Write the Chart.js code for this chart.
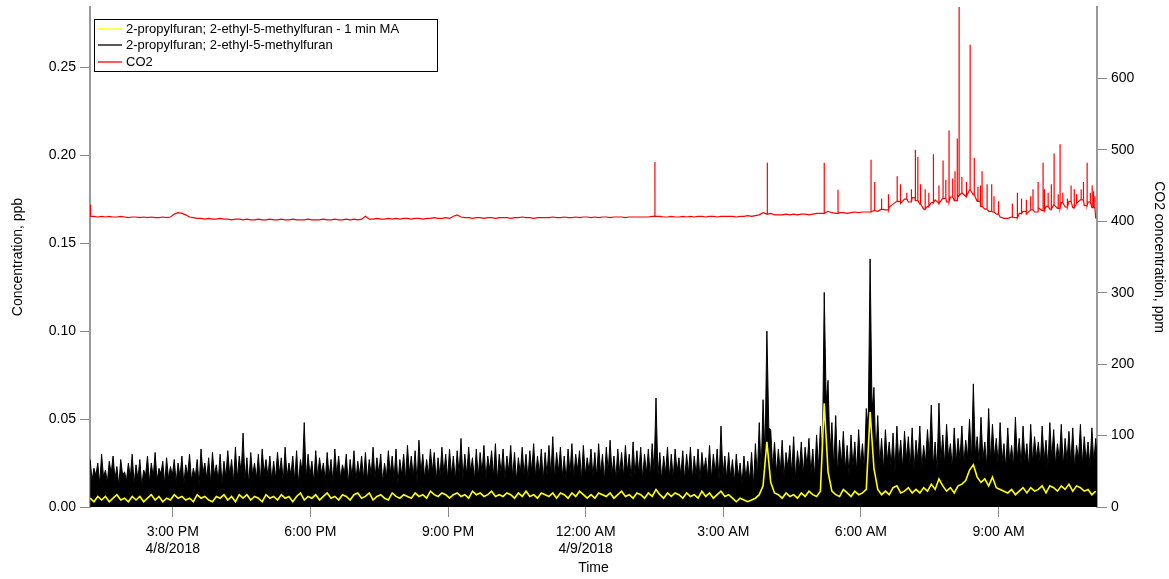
<!DOCTYPE html>
<html>
<head>
<meta charset="utf-8">
<script src="https://cdn.jsdelivr.net/npm/chart.js@4.4.1/dist/chart.umd.min.js"></script>
<style>
  html, body { margin: 0; padding: 0; background: #fff; }
  canvas { display: block; }
</style>
</head>
<body>
<canvas id="c" width="1169" height="579"></canvas>
<script>
// Time base: hours since midnight 4/8/2018, one value every 5 minutes from 13:12.
const startHour = 13.2;
const stepHours = 5 / 60;

// 2-propylfuran; 2-ethyl-5-methylfuran, highest value in each 5-minute bin (ppb)
const furanPeak = [
  .027,.022,.025,.030,.021,.026,.029,.023,.027,.020,.025,.030,
  .024,.027,.021,.029,.025,.031,.022,.026,.028,.023,.027,.025,
  .029,.024,.030,.022,.027,.033,.025,.028,.031,.024,.030,.026,
  .032,.027,.034,.029,.042,.028,.031,.025,.030,.033,.027,.029,
  .026,.031,.028,.034,.025,.029,.032,.027,.048,.030,.026,.032,
  .028,.025,.031,.027,.033,.029,.024,.030,.027,.032,.026,.029,
  .031,.027,.034,.028,.030,.025,.032,.029,.033,.027,.030,.035,
  .029,.032,.038,.030,.027,.033,.031,.028,.034,.030,.033,.029,
  .032,.039,.030,.034,.028,.033,.031,.035,.029,.032,.036,.030,
  .033,.029,.035,.031,.028,.034,.030,.032,.036,.029,.033,.031,
  .035,.040,.031,.034,.029,.033,.036,.030,.032,.035,.028,.033,
  .031,.036,.030,.034,.038,.029,.033,.031,.035,.030,.037,.032,
  .034,.030,.033,.036,.062,.031,.029,.034,.030,.033,.028,.032,
  .030,.034,.029,.033,.031,.028,.035,.030,.033,.046,.029,.031,
  .027,.030,.025,.029,.026,.031,.036,.048,.061,.100,.044,.037,
  .033,.038,.031,.035,.040,.032,.037,.034,.039,.033,.041,.046,
  .122,.072,.048,.052,.038,.043,.035,.041,.037,.044,.036,.056,
  .141,.068,.052,.039,.044,.037,.042,.046,.038,.043,.040,.045,
  .038,.046,.035,.044,.058,.037,.059,.041,.047,.036,.045,.039,
  .046,.038,.050,.070,.040,.051,.037,.056,.047,.039,.048,.036,
  .045,.035,.051,.039,.046,.036,.047,.040,.037,.046,.038,.048,
  .044,.036,.047,.039,.043,.045,.035,.047,.040,.037,.045,.039
];

// lowest level reached after each bin's peak, before the next one (ppb)
const furanLow = [
  .015,.018,.013,.017,.014,.019,.016,.012,.018,.015,.017,.013,
  .016,.012,.018,.014,.017,.015,.019,.013,.016,.018,.014,.017,
  .013,.018,.015,.017,.012,.019,.016,.014,.018,.015,.013,.017,
  .018,.014,.016,.019,.015,.013,.018,.016,.014,.019,.017,.015,
  .016,.019,.014,.017,.018,.015,.013,.019,.016,.018,.014,.017,
  .019,.015,.017,.014,.018,.016,.019,.013,.017,.015,.018,.016,
  .015,.018,.016,.019,.014,.017,.019,.016,.013,.018,.016,.019,
  .017,.014,.019,.016,.018,.020,.015,.017,.019,.016,.018,.015,
  .019,.016,.018,.020,.015,.017,.019,.016,.021,.017,.015,.019,
  .016,.020,.017,.015,.019,.018,.016,.020,.017,.019,.015,.018,
  .018,.016,.020,.017,.015,.019,.017,.021,.016,.018,.020,.017,
  .017,.019,.015,.020,.018,.016,.019,.017,.020,.016,.018,.019,
  .016,.019,.017,.020,.018,.015,.019,.017,.016,.020,.018,.015,
  .019,.016,.018,.015,.020,.017,.016,.019,.015,.018,.016,.017,
  .014,.017,.013,.016,.015,.012,.017,.019,.030,.045,.022,.019,
  .020,.017,.022,.019,.016,.021,.018,.023,.019,.017,.022,.025,
  .060,.030,.022,.019,.024,.021,.018,.023,.020,.024,.021,.045,
  .055,.028,.024,.021,.026,.023,.020,.025,.022,.027,.023,.021,
  .026,.022,.025,.028,.023,.021,.026,.024,.028,.022,.025,.027,
  .024,.028,.026,.030,.025,.027,.023,.026,.028,.024,.026,.022,
  .025,.023,.027,.024,.026,.022,.025,.028,.024,.026,.023,.027,
  .024,.027,.023,.026,.025,.022,.027,.024,.026,.023,.025,.024
];

// 1-minute moving average of the same ion (ppb)
const furanMA = [
  .005,.003,.006,.004,.006,.003,.005,.007,.004,.005,.003,.006,
  .004,.006,.003,.005,.007,.004,.006,.003,.005,.004,.007,.005,
  .006,.004,.005,.003,.007,.005,.006,.004,.003,.006,.005,.007,
  .004,.006,.003,.007,.005,.007,.004,.006,.005,.003,.007,.005,
  .006,.004,.007,.005,.006,.003,.006,.008,.004,.006,.005,.007,
  .004,.006,.008,.005,.006,.004,.007,.006,.004,.007,.008,.005,
  .006,.008,.004,.006,.007,.005,.004,.008,.006,.005,.007,.006,
  .005,.008,.006,.007,.005,.009,.007,.006,.008,.007,.005,.007,
  .008,.006,.007,.005,.009,.007,.008,.006,.007,.009,.006,.007,
  .006,.008,.007,.005,.008,.006,.009,.006,.007,.005,.008,.007,
  .006,.008,.005,.008,.007,.005,.008,.006,.009,.007,.005,.007,
  .005,.008,.007,.006,.008,.005,.007,.009,.006,.007,.005,.008,
  .007,.005,.008,.006,.010,.007,.005,.008,.006,.008,.007,.005,
  .008,.006,.007,.005,.009,.006,.008,.005,.007,.009,.006,.007,
  .005,.003,.005,.004,.003,.004,.005,.007,.012,.037,.014,.008,
  .007,.005,.008,.006,.007,.005,.008,.006,.009,.007,.006,.009,
  .059,.020,.009,.007,.006,.010,.008,.006,.009,.007,.008,.010,
  .054,.022,.010,.007,.009,.007,.011,.012,.008,.009,.011,.008,
  .010,.008,.011,.009,.013,.010,.016,.012,.009,.011,.008,.012,
  .013,.015,.021,.024,.017,.014,.016,.012,.017,.011,.010,.009,
  .008,.010,.007,.009,.011,.008,.011,.009,.010,.012,.008,.012,
  .011,.009,.012,.010,.013,.009,.012,.011,.009,.010,.007,.009
];

// CO2 background level, 5-minute values (ppm)
const co2 = [
  407,407,406,407,406,407,406,406,407,406,405,406,
  406,405,406,405,406,405,405,406,405,406,410,412,
  411,409,406,405,404,404,403,404,403,403,404,403,
  403,402,403,403,402,403,402,402,403,402,402,403,
  402,402,403,402,402,403,402,402,402,403,402,402,
  402,403,402,402,403,402,402,403,402,403,402,403,
  407,403,403,404,403,403,404,403,404,403,404,404,
  403,404,404,403,404,404,405,404,404,405,404,407,
  409,406,405,405,404,405,405,404,405,405,404,405,
  405,405,404,405,405,406,405,405,404,405,405,405,
  405,406,405,405,406,405,405,406,405,406,406,405,
  406,405,406,406,405,406,406,406,405,406,406,406,
  406,406,406,407,407,407,406,406,407,406,406,407,
  406,407,406,407,407,406,407,407,406,407,407,407,
  407,406,407,407,408,407,408,409,412,410,411,409,
  409,409,410,409,410,409,410,410,409,410,411,411,
  411,414,412,411,412,412,411,412,413,412,413,413,
  413,415,414,417,416,420,424,428,425,431,427,433,
  429,424,417,421,426,430,425,432,427,434,429,436,
  440,435,444,437,428,421,417,414,413,410,406,404,
  404,406,405,411,414,410,416,413,419,415,421,417,
  423,418,426,420,428,419,425,430,422,427,419,404
];

// short CO2 excursions: time (hours since midnight 4/8) and peak (ppm)
const co2SpikeHours = [
  13.21, 25.51, 27.96, 29.20, 29.50, 30.22, 30.30, 30.45, 30.60, 30.79,
  30.86, 31.00, 31.10, 31.18, 31.24, 31.30, 31.40, 31.48, 31.58, 31.70,
  31.79, 31.85, 31.92, 32.00, 32.05, 32.10, 32.14, 32.20, 32.30, 32.38,
  32.47, 32.55, 32.60, 32.64, 32.75, 32.85, 32.90, 33.00, 33.30, 33.41,
  33.50, 33.60, 33.70, 33.75, 33.86, 33.97, 34.00, 34.08, 34.15, 34.21,
  34.30, 34.34, 34.40, 34.50, 34.58, 34.65, 34.70, 34.80, 34.85, 34.93,
  35.00, 35.04, 35.07, 35.10
];
const co2SpikePeaks = [
  423, 483, 482, 482, 444, 486, 455, 432, 438, 463,
  452, 440, 445, 500, 490, 452, 445, 440, 494, 450,
  485, 458, 527, 460, 470, 516, 700, 462, 455, 647,
  489, 448, 450, 470, 452, 452, 435, 428, 425, 440,
  432, 430, 435, 445, 455, 482, 445, 440, 452, 495,
  438, 508, 440, 432, 450, 445, 438, 445, 455, 482,
  440, 450, 442, 435
];

const leftTicks = [0, 0.05, 0.10, 0.15, 0.20, 0.25];
const rightTicks = [0, 100, 200, 300, 400, 500, 600];
const timeTicks = [15, 18, 21, 24, 27, 30, 33];
const timeTickLabels = [
  ['3:00 PM', '4/8/2018'], ['6:00 PM'], ['9:00 PM'],
  ['12:00 AM', '4/9/2018'], ['3:00 AM'], ['6:00 AM'], ['9:00 AM']
];
const seriesLabels = [
  '2-propylfuran; 2-ethyl-5-methylfuran - 1 min MA',
  '2-propylfuran; 2-ethyl-5-methylfuran',
  'CO2'
];
const seriesColors = ['#ffff00', '#000000', '#ff0000'];

const tAt = i => startHour + i * stepHours;
const maPoints = furanMA.map((v, i) => ({ x: tAt(i), y: v }));

// raw ion trace: each bin's peak, then the low level halfway to the next bin
const rawPoints = [];
furanPeak.forEach((v, i) => {
  rawPoints.push({ x: tAt(i), y: v });
  rawPoints.push({ x: tAt(i) + stepHours / 2, y: furanLow[i] });
});

// CO2 trace: background values with each excursion drawn as a needle at its own time
const co2Points = [];
co2.forEach((v, i) => {
  co2Points.push({ x: tAt(i), y: v });
  co2SpikeHours.forEach((t, k) => {
    if (t >= tAt(i) && t < tAt(i + 1)) {
      co2Points.push({ x: t, y: v }, { x: t, y: co2SpikePeaks[k] }, { x: t, y: v });
    }
  });
});

const FONT = '"Liberation Sans", Arial, sans-serif';
Chart.defaults.font.family = FONT;
Chart.defaults.font.size = 14;
Chart.defaults.color = '#000';

// boxed legend in the upper-left corner of the plot
const boxedLegend = {
  id: 'boxedLegend',
  afterDraw(chart) {
    const ctx = chart.ctx;
    const a = chart.chartArea;
    const x = a.left + 4, y = a.top + 12, w = 343, h = 52;
    ctx.save();
    ctx.fillStyle = '#fff';
    ctx.fillRect(x, y, w, h);
    ctx.strokeStyle = '#000';
    ctx.lineWidth = 1;
    ctx.strokeRect(x + 0.5, y + 0.5, w, h);
    ctx.font = '13px ' + FONT;
    ctx.textBaseline = 'middle';
    seriesLabels.forEach((label, k) => {
      const ly = Math.round(y + 10 + k * 16.4);
      ctx.strokeStyle = seriesColors[k];
      ctx.lineWidth = 1.3;
      ctx.beginPath();
      ctx.moveTo(x + 4, ly);
      ctx.lineTo(x + 28, ly);
      ctx.stroke();
      ctx.fillStyle = '#000';
      ctx.fillText(label, x + 32, ly);
    });
    ctx.restore();
  }
};

const noEdgePadding = s => { s.paddingTop = 0; s.paddingBottom = 0; };

new Chart(document.getElementById('c'), {
  type: 'line',
  data: {
    datasets: [
      { label: seriesLabels[0], data: maPoints, yAxisID: 'y',
        borderColor: seriesColors[0], borderWidth: 1.6, pointRadius: 0, fill: false },
      { label: seriesLabels[1], data: rawPoints, yAxisID: 'y',
        borderColor: seriesColors[1], backgroundColor: seriesColors[1], borderWidth: 1, pointRadius: 0, fill: 'origin' },
      { label: seriesLabels[2], data: co2Points, yAxisID: 'y2',
        borderColor: seriesColors[2], borderWidth: 1.2, pointRadius: 0, fill: false }
    ]
  },
  options: {
    responsive: false,
    animation: false,
    devicePixelRatio: 1,
    layout: { padding: { top: 7, left: 0, right: 0, bottom: 0 } },
    elements: { line: { tension: 0 } },
    plugins: { legend: { display: false }, tooltip: { enabled: false } },
    scales: {
      x: {
        type: 'linear', position: 'bottom', min: 13.197, max: 35.145,
        afterBuildTicks: s => { s.ticks = timeTicks.map(v => ({ value: v })); },
        afterFit: s => { s.height = 72; s.paddingLeft = 0; s.paddingRight = 0; },
        ticks: {
          autoSkip: false, maxRotation: 0, padding: 7, color: '#000',
          callback: v => timeTickLabels[timeTicks.indexOf(v)]
        },
        grid: { drawOnChartArea: false, drawTicks: true, tickLength: 10, color: '#888' },
        border: { display: false },
        title: { display: true, text: 'Time', color: '#000', padding: { top: 2, bottom: 2 } }
      },
      y: {
        type: 'linear', position: 'left', min: 0, max: 0.2843,
        afterBuildTicks: s => { s.ticks = leftTicks.map(v => ({ value: v })); },
        afterFit: s => { s.width = 90; noEdgePadding(s); },
        ticks: { padding: 4, color: '#000', callback: v => v.toFixed(2) },
        grid: { drawOnChartArea: false, drawTicks: true, tickLength: 10, color: '#888' },
        border: { display: true, color: '#999', width: 2 },
        title: { display: true, text: 'Concentration, ppb', color: '#000', padding: { top: 10, bottom: 0 } }
      },
      y2: {
        type: 'linear', position: 'right', min: 0, max: 700,
        afterBuildTicks: s => { s.ticks = rightTicks.map(v => ({ value: v })); },
        afterFit: s => { s.width = 72; noEdgePadding(s); },
        ticks: { padding: 4, color: '#000', callback: v => String(v) },
        grid: { drawOnChartArea: false, drawTicks: true, tickLength: 10, color: '#888' },
        border: { display: true, color: '#999', width: 2 },
        title: { display: true, text: 'CO2 concentration, ppm', color: '#000', padding: { top: 2, bottom: 0 } }
      }
    }
  },
  plugins: [boxedLegend]
});
</script>
</body>
</html>
